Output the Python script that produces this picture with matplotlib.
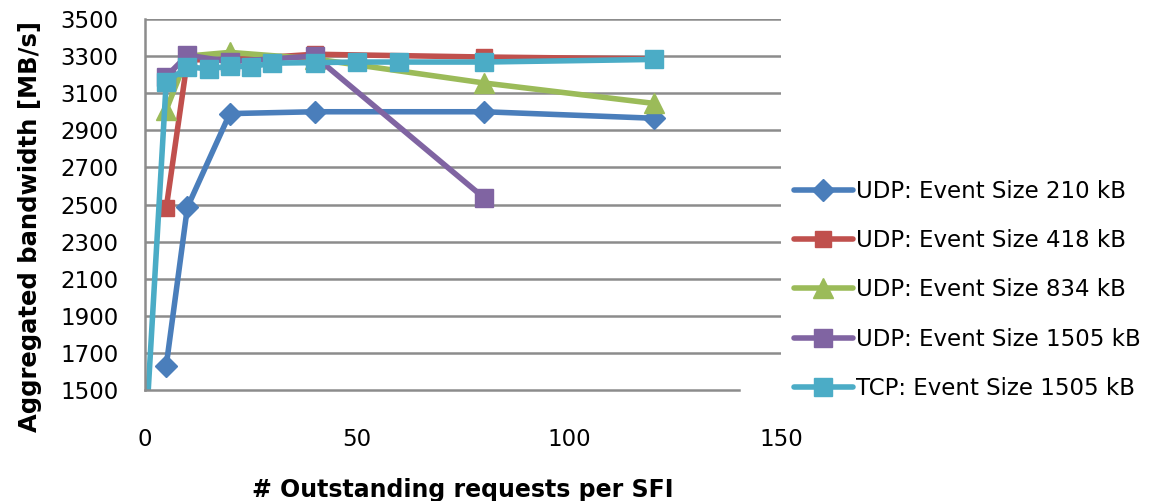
import matplotlib
matplotlib.use("Agg")
import matplotlib.pyplot as plt

# Data
x_udp210 = [5, 10, 20, 40, 80, 120]
y_udp210 = [1630, 2485, 2990, 3000, 3000, 2965]

x_udp418 = [5, 10, 20, 40, 80, 120]
y_udp418 = [2480, 3280, 3280, 3310, 3295, 3285]

x_udp834 = [5, 10, 20, 40, 80, 120]
y_udp834 = [3010, 3300, 3320, 3285, 3155, 3045]

x_udp1505 = [5, 10, 20, 40, 80]
y_udp1505 = [3190, 3305, 3270, 3300, 2535]

x_tcp1505 = [0, 5, 10, 15, 20, 25, 30, 40, 50, 60, 80, 120]
y_tcp1505 = [1200, 3160, 3241, 3232, 3245, 3243, 3262, 3265, 3268, 3268, 3268, 3282]

labels = ["UDP: Event Size 210 kB", "UDP: Event Size 418 kB", "UDP: Event Size 834 kB",
          "UDP: Event Size 1505 kB", "TCP: Event Size 1505 kB"]
x_ticks = [0, 50, 100, 150]
y_ticks = [1500, 1700, 1900, 2100, 2300, 2500, 2700, 2900, 3100, 3300, 3500]

colors = ["#4A7EBB", "#C0504D", "#9BBB59", "#8064A2", "#4BACC6"]
markers = ["D", "s", "^", "s", "s"]
msizes = [11, 12, 14, 13, 13]

fig = plt.figure(figsize=(11.6, 5.01), dpi=100)
ax = fig.add_axes([145/1160, 1-390/501, (781-145)/1160, (390-19)/501])

series = [(x_udp210, y_udp210), (x_udp418, y_udp418), (x_udp834, y_udp834),
          (x_udp1505, y_udp1505), (x_tcp1505, y_tcp1505)]
for (xs, ys), c, m, ms, lab in zip(series, colors, markers, msizes, labels):
    ax.plot(xs, ys, color=c, marker=m, markersize=ms, linewidth=4, label=lab,
            markeredgecolor=c, solid_joinstyle='round', solid_capstyle='round', clip_on=True)

ax.set_xlim(0, 150)
ax.set_ylim(1500, 3500)
ax.set_xticks(x_ticks)
ax.set_yticks(y_ticks)
ax.tick_params(axis='both', length=0, labelsize=16.5)
ax.tick_params(axis='y', pad=19)
ax.tick_params(axis='x', pad=27)
ax.grid(axis='y', color='#8C8C8C', linewidth=1.8)
ax.set_axisbelow(True)
ax.yaxis.get_gridlines()[0].set_visible(False)
for s in ['top', 'right']:
    ax.spines[s].set_visible(False)
for s in ['left', 'bottom']:
    ax.spines[s].set_color('#8C8C8C')
    ax.spines[s].set_linewidth(1.8)
ax.spines['bottom'].set_bounds(0, 140)

ax.set_ylabel("Aggregated bandwidth [MB/s]", fontsize=17.5, fontweight='bold')
ax.yaxis.set_label_coords(-(145-42)/636, (390-227)/371)
ax.set_xlabel("# Outstanding requests per SFI", fontsize=17, fontweight='bold', labelpad=20)

leg = fig.legend(loc='center left', bbox_to_anchor=(773/1160, 1-290/501), frameon=False,
                 fontsize=16.5, handlelength=2.6, handletextpad=0.1, labelspacing=1.15)

fig.savefig("out.png", dpi=100)
